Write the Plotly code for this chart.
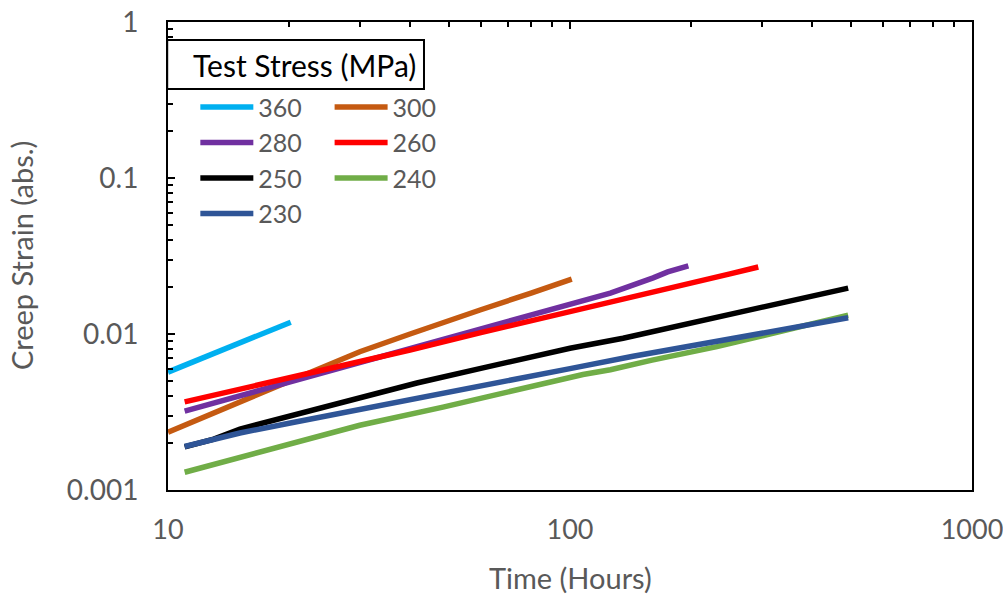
import plotly.graph_objects as go

# ---- data (time in hours, creep strain abs.) ----
t_360 = [10, 12, 14, 16, 18, 20.2]
e_360 = [0.0057, 0.0069, 0.0081, 0.0093, 0.0106, 0.0119]

t_300 = [10, 12, 15, 20, 25, 30, 40, 48, 60, 80, 101]
e_300 = [0.00235, 0.00287, 0.00367, 0.00504, 0.0064, 0.0077, 0.0100, 0.0118, 0.0143, 0.0183, 0.0225]

t_280 = [11, 13, 15, 20, 25, 30, 40, 60, 80, 100, 126, 161, 175, 197]
e_280 = [0.0032, 0.00361, 0.0040, 0.00492, 0.00578, 0.00659, 0.0081, 0.0108, 0.0133, 0.0155, 0.0183, 0.0229, 0.0250, 0.0273]

t_260 = [11, 13, 15, 20, 25, 30, 40, 60, 80, 100, 126, 160, 200, 250, 294]
e_260 = [0.00367, 0.00405, 0.00441, 0.00522, 0.00596, 0.00663, 0.0079, 0.0102, 0.0121, 0.0139, 0.0160, 0.0185, 0.0212, 0.0243, 0.0269]

t_250 = [11, 13, 15.1, 20, 25, 30, 41.6, 60, 79.4, 100, 135.5, 200, 280, 350, 492]
e_250 = [0.00189, 0.00212, 0.00246, 0.00297, 0.00345, 0.0039, 0.00485, 0.00602, 0.0071, 0.0081, 0.0094, 0.01175, 0.0145, 0.0165, 0.0197]

t_240 = [11, 14, 17.9, 23, 30, 48.3, 70, 107.7, 126, 160, 232, 330, 492]
e_240 = [0.0013, 0.00153, 0.0018, 0.00215, 0.0026, 0.0034, 0.00425, 0.0055, 0.0059, 0.0068, 0.0083, 0.0103, 0.0132]

t_230 = [11, 13, 15.1, 20, 30, 41.6, 60, 80, 100, 143.5, 200, 339, 492]
e_230 = [0.0019, 0.00212, 0.00232, 0.00268, 0.0033, 0.0039, 0.00466, 0.00537, 0.0060, 0.0072, 0.00836, 0.0106, 0.0127]

series = [
    ("360", t_360, e_360, "#00B0F0", "legend"),
    ("300", t_300, e_300, "#C55A11", "legend2"),
    ("280", t_280, e_280, "#7030A0", "legend"),
    ("260", t_260, e_260, "#FF0000", "legend2"),
    ("250", t_250, e_250, "#000000", "legend"),
    ("240", t_240, e_240, "#70AD47", "legend2"),
    ("230", t_230, e_230, "#2F5597", "legend"),
]

x_tickvals = [10, 100, 1000]
x_ticktext = ["10", "100", "1000"]
y_tickvals = [0.001, 0.01, 0.1, 1]
y_ticktext = ["0.001", "0.01", "0.1", "1"]

x_minor = [m * d for d in (10, 100) for m in range(2, 10)]
y_minor = [m * d for d in (0.001, 0.01, 0.1) for m in range(2, 10)]

GREY = "#595959"
FONT = "Lato"

fig = go.Figure()
for name, t, e, c, lg in series:
    fig.add_trace(go.Scatter(x=t, y=e, mode="lines", name=name,
                             line=dict(color=c, width=5.5), legend=lg))

# dummy trace to activate top axis
fig.add_trace(go.Scatter(x=[10], y=[0.001], xaxis="x2", mode="markers",
                         marker=dict(opacity=0), showlegend=False, hoverinfo="skip"))

fig.update_layout(
    width=1003, height=596,
    margin=dict(l=168, r=31, t=22, b=106),
    paper_bgcolor="white", plot_bgcolor="white",
    font=dict(family=FONT, color=GREY),
    showlegend=True,
    xaxis=dict(type="log", range=[1, 3], showgrid=False, zeroline=False,
               showline=True, linecolor="black", linewidth=2, mirror=True,
               ticks="", tickvals=x_tickvals, ticktext=x_ticktext, automargin=False,
               ticklabeloverflow="allow",
               tickfont=dict(size=27, color=GREY), ticklabelstandoff=15),
    xaxis2=dict(type="log", range=[1, 3], overlaying="x", side="top",
                anchor="y", showgrid=False, zeroline=False, automargin=False,
                showline=True, linecolor="black", linewidth=2,
                ticks="inside", ticklen=7, tickwidth=2, tickcolor="black",
                tickvals=x_tickvals, showticklabels=False,
                minor=dict(ticks="inside", ticklen=5, tickwidth=1.5,
                           tickcolor="black", tickvals=x_minor, showgrid=False)),
    yaxis=dict(type="log", range=[-3, 0], showgrid=False, zeroline=False,
               showline=True, linecolor="black", linewidth=2, mirror=True,
               ticks="inside", ticklen=7, tickwidth=2, tickcolor="black",
               tickvals=y_tickvals, ticktext=y_ticktext, automargin=False,
               ticklabeloverflow="allow",
               tickfont=dict(size=28, color=GREY), ticklabelstandoff=22,
               minor=dict(ticks="inside", ticklen=5, tickwidth=1.5,
                          tickcolor="black", tickvals=y_minor, showgrid=False)),
    legend=dict(x=0.034, y=0.867, xanchor="left", yanchor="top",
                orientation="v", bgcolor="rgba(0,0,0,0)", itemwidth=53,
                font=dict(size=25, color=GREY, family=FONT), tracegroupgap=0),
    legend2=dict(x=0.201, y=0.867, xanchor="left", yanchor="top",
                 orientation="v", bgcolor="rgba(0,0,0,0)", itemwidth=53,
                 font=dict(size=25, color=GREY, family=FONT), tracegroupgap=0),
)

# legend title box
fig.add_shape(type="rect", xref="paper", yref="paper",
              x0=-0.001, x1=0.3184, y0=0.8568, y1=0.9615,
              line=dict(color="black", width=2), fillcolor="white", layer="above")
fig.add_annotation(xref="paper", yref="paper", x=0.170, y=0.908,
                   text="Test Stress (MPa)", showarrow=False,
                   font=dict(size=30, color="black", family=FONT),
                   xanchor="center", yanchor="middle")

# axis titles
fig.add_annotation(xref="paper", yref="paper", x=0.5, y=-0.188,
                   text="Time (Hours)", showarrow=False,
                   font=dict(size=29, color=GREY, family=FONT),
                   xanchor="center", yanchor="middle")
fig.add_annotation(xref="paper", yref="paper", x=-0.1828, y=0.5,
                   text="Creep Strain (abs.)", showarrow=False, textangle=-90,
                   font=dict(size=29, color=GREY, family=FONT),
                   xanchor="center", yanchor="middle")

fig.write_html("out.html")
